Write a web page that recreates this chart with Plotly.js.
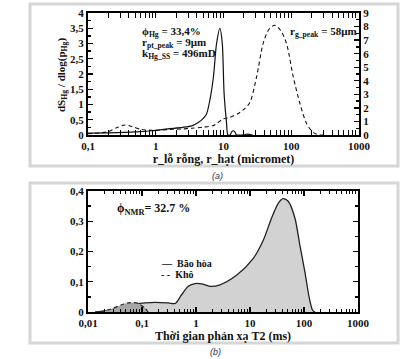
<!DOCTYPE html>
<html>
<head>
<meta charset="utf-8">
<script src="https://cdn.plot.ly/plotly-3.0.1.min.js"></script>
<style>
html,body{margin:0;padding:0;background:#fff;}
#chart{width:416px;height:359px;}
</style>
</head>
<body>
<div id="chart"></div>
<script>
// ---- Panel (a): mercury injection pore throat (solid, left axis) and grain size (dashed, right axis)
var poreX = [0.1, 0.2, 0.5, 0.88, 1.5, 2.5, 3.4, 4.3, 4.9, 5.6, 6.3, 7.1, 7.9, 8.85, 9.6, 10.2, 11.1, 11.6, 12.5, 13.2, 13.9, 14.7, 15.5, 17, 20, 22, 24, 27];
var poreY = [0.06, 0.07, 0.1, 0.14, 0.2, 0.25, 0.3, 0.42, 0.52, 0.68, 1.15, 1.9, 3.0, 3.5, 3.0, 1.37, 0.38, 0, 0, 0.1, 0.14, 0.1, 0, 0, 0, 0.03, 0.02, 0];
var grainX = [0.1, 0.15, 0.2, 0.27, 0.35, 0.45, 0.6, 0.88, 1.5, 2.5, 3.4, 5, 7.1, 10, 12.4, 16, 19.6, 24.5, 30.8, 38.5, 47, 57, 70, 85, 107, 134, 168, 210, 260, 300];
var grainY = [0.1, 0.15, 0.25, 0.55, 0.74, 0.62, 0.42, 0.35, 0.4, 0.45, 0.5, 0.58, 0.7, 1.2, 1.3, 1.55, 1.85, 2.4, 4.3, 6.76, 7.8, 8.1, 7.7, 6.76, 4.3, 2.34, 0.86, 0.2, 0, 0];

// ---- Panel (b): NMR T2 distribution
var satX = [0.0135, 0.0206, 0.036, 0.064, 0.114, 0.174, 0.307, 0.41, 0.54, 0.72, 0.96, 1.27, 1.82, 2.7, 5.7, 11.5, 17.6, 25, 33.5, 41, 51, 68, 84, 104, 126, 145, 160];
var satY = [0, 0.004, 0.013, 0.024, 0.03, 0.032, 0.03, 0.028, 0.057, 0.085, 0.094, 0.093, 0.085, 0.089, 0.122, 0.177, 0.237, 0.31, 0.36, 0.375, 0.366, 0.31, 0.22, 0.132, 0.044, 0.005, 0];
var dryX = [0.017, 0.027, 0.042, 0.06, 0.085, 0.114, 0.13];
var dryY = [0, 0.01, 0.024, 0.031, 0.028, 0.013, 0];

// tick labels
var xaTickVals = [0.1, 1, 10, 100, 1000];
var xaTickText = ["0,1", "1", "10", "100", "1000"];
var xbTickVals = [0.01, 0.1, 1, 10, 100, 1000];
var xbTickText = ["0,01", "0,1", "1", "10", "100", "1000"];

function minorLog(lo, hi) {
  var out = [];
  for (var e = lo; e < hi; e++) {
    for (var m = 2; m <= 9; m++) out.push(m * Math.pow(10, e));
  }
  return out;
}

var F = "Liberation Serif, Times New Roman, serif";
var tickFont = {family: F, size: 11, color: "#111", weight: "bold"};
function tf(sz) { return {family: F, size: sz, color: "#111", weight: "bold"}; }

var traces = [
  {x: poreX, y: poreY, xaxis: "x", yaxis: "y", mode: "lines",
   line: {color: "#111", width: 1.2, shape: "spline", smoothing: 0.7}, showlegend: false},
  {x: grainX, y: grainY, xaxis: "x", yaxis: "y2", mode: "lines",
   line: {color: "#111", width: 1.1, dash: "4px,3px", shape: "spline", smoothing: 0.8}, showlegend: false},
  {x: satX, y: satY, xaxis: "x2", yaxis: "y3", mode: "lines", fill: "tozeroy",
   fillcolor: "#d2d2d2", line: {color: "#222", width: 1.3, shape: "spline", smoothing: 0.8}, name: "Bão hòa", showlegend: false},
  {x: dryX, y: dryY, xaxis: "x2", yaxis: "y3", mode: "lines", fill: "tozeroy",
   fillcolor: "#a6a6a6", line: {color: "#222", width: 1.2, dash: "4px,3px", shape: "spline", smoothing: 0.8}, name: "Khô", showlegend: false}
];

var axCommon = {
  showline: true, linecolor: "#000", linewidth: 2, ticks: "inside", ticklen: 5, tickwidth: 1.3,
  tickcolor: "#000", showgrid: false, zeroline: false, tickfont: tickFont
};

function merge(a, b) { var o = {}; for (var k in a) o[k] = a[k]; for (var k2 in b) o[k2] = b[k2]; return o; }

var layout = {
  width: 416, height: 359,
  margin: {l: 0, r: 0, t: 0, b: 0},
  paper_bgcolor: "#fff", plot_bgcolor: "#fff",
  separators: ",.",
  font: {family: F, color: "#111"},
  xaxis: merge(axCommon, {
    type: "log", range: [-1, 3], domain: [88/416, 359/416], anchor: "y",
    tickmode: "array", tickvals: xaTickVals, ticktext: xaTickText, mirror: "allticks",
    minor: {tickmode: "array", tickvals: minorLog(-1, 3), ticks: "inside", ticklen: 3, tickcolor: "#000", tickwidth: 1},
    title: {text: "r_lỗ rỗng, r_hạt (micromet)", font: tf(12), standoff: 2}
  }),
  yaxis: merge(axCommon, {
    range: [0, 4], domain: [1 - 135/359, 1 - 13/359], anchor: "x", dtick: 0.5,
    minor: {dtick: 0.25, ticks: "inside", ticklen: 3, tickcolor: "#000"}
  }),
  yaxis2: merge(axCommon, {
    range: [0, 9], overlaying: "y", side: "right", anchor: "x", dtick: 1,
    minor: {dtick: 0.5, ticks: "inside", ticklen: 3, tickcolor: "#000"}
  }),
  xaxis2: merge(axCommon, {
    type: "log", range: [-2, 3], domain: [88/416, 358/416], anchor: "y3",
    tickmode: "array", tickvals: xbTickVals, ticktext: xbTickText, mirror: "allticks",
    minor: {tickmode: "array", tickvals: minorLog(-2, 3), ticks: "inside", ticklen: 3, tickcolor: "#000", tickwidth: 1},
    title: {text: "Thời gian phản xạ T2 (ms)", font: tf(12), standoff: 2}
  }),
  yaxis3: merge(axCommon, {
    range: [0, 0.4], domain: [1 - 312/359, 1 - 191/359], anchor: "x2", dtick: 0.1, mirror: "allticks",
    minor: {dtick: 0.05, ticks: "inside", ticklen: 3, tickcolor: "#000"}
  }),
  shapes: [
    {type: "rect", xref: "paper", yref: "paper", x0: 30/416, x1: 398/416, y0: 1 - 166/359, y1: 1 - 4/359,
     line: {color: "#d6d6d6", width: 3}},
    {type: "rect", xref: "paper", yref: "paper", x0: 30/416, x1: 398/416, y0: 1 - 343/359, y1: 1 - 183/359,
     line: {color: "#d6d6d6", width: 3}}
  ],
  annotations: [
    {xref: "paper", yref: "paper", x: 62/416, y: 1 - 75/359, xanchor: "center", yanchor: "middle", showarrow: false,
     textangle: -90, text: "dS<sub>Hg</sub> / dlog(p<sub>Hg</sub>)", font: tf(11)},
    {xref: "paper", yref: "paper", x: 140/416, y: 1 - 32/359, xanchor: "left", yanchor: "middle", showarrow: false,
     text: "ϕ<sub>Hg</sub> = 33,4%", font: tf(11)},
    {xref: "paper", yref: "paper", x: 140/416, y: 1 - 43/359, xanchor: "left", yanchor: "middle", showarrow: false,
     text: "r<sub>pt_peak</sub> = 9μm", font: tf(11)},
    {xref: "paper", yref: "paper", x: 140/416, y: 1 - 54/359, xanchor: "left", yanchor: "middle", showarrow: false,
     text: "k<sub>Hg_SS</sub> = 496mD", font: tf(11)},
    {xref: "paper", yref: "paper", x: 288/416, y: 1 - 32/359, xanchor: "left", yanchor: "middle", showarrow: false,
     text: "r<sub>g_peak</sub> = 58μm", font: tf(11)},
    {xref: "paper", yref: "paper", x: 115/416, y: 1 - 209/359, xanchor: "left", yanchor: "middle", showarrow: false,
     text: "ϕ<sub>NMR</sub>= 32.7 %", font: tf(12)},
    {xref: "paper", yref: "paper", x: 159/416, y: 1 - 263/359, xanchor: "left", yanchor: "middle", showarrow: false,
     text: "—  Bão hòa", font: tf(10)},
    {xref: "paper", yref: "paper", x: 159/416, y: 1 - 274.5/359, xanchor: "left", yanchor: "middle", showarrow: false,
     text: "- -  Khô", font: tf(10)},
    {xref: "paper", yref: "paper", x: 217/416, y: 1 - 176/359, xanchor: "center", yanchor: "middle", showarrow: false,
     text: "<i>(a)</i>", font: {family: "Liberation Sans Narrow, Liberation Sans, sans-serif", size: 9, color: "#1f3050"}},
    {xref: "paper", yref: "paper", x: 215/416, y: 1 - 352/359, xanchor: "center", yanchor: "middle", showarrow: false,
     text: "<i>(b)</i>", font: {family: "Liberation Sans Narrow, Liberation Sans, sans-serif", size: 9, color: "#1f3050"}}
  ]
};

Plotly.newPlot("chart", traces, layout, {staticPlot: true, displayModeBar: false});
</script>
</body>
</html>
